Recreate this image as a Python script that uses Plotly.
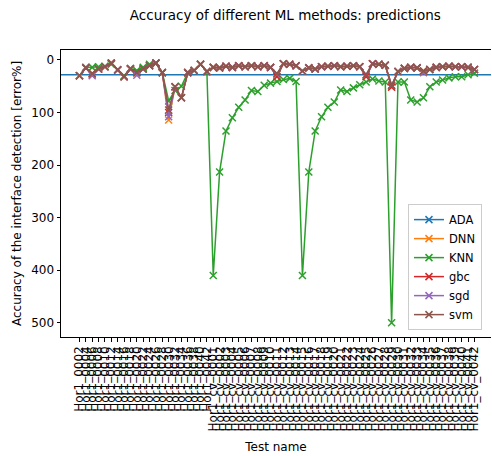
import plotly.graph_objects as go

# ---- data ----
group1 = ["Hor1_%04d" % n for n in range(2, 44, 2)]
group2 = ["Hor1_cv_%04d" % n for n in range(1, 43)]
test_names = group1 + group2

ada_value = 28

dnn = [30, 15, 28, 17, 13, 6, 19, 32, 17, 24, 17, 11, 6, 24, 114, 51, 72, 24, 20, 8, 22,
       14, 15, 12, 14, 11, 13, 11, 13, 11, 14, 31, 7, 8, 11, 21, 15, 17, 13, 12, 11, 13, 12,
       11, 13, 31, 7, 8, 10, 50, 22, 16, 14, 15, 21, 18, 14, 13, 12, 13, 13, 14, 18]
knn = [30, 14, 14, 13, 12, 8, 18, 30, 16, 20, 14, 8, 6, 24, 78, 58, 50, 24, 20, 8, 22,
       410, 213, 135, 110, 90, 76, 58, 60, 48, 44, 41, 37, 35, 41, 410, 213, 135, 108, 90, 80,
       57, 60, 53, 47, 42, 36, 40, 42, 500, 42, 42, 76, 80, 72, 51, 42, 38, 34, 32, 32, 28, 25]
gbc = [30, 15, 26, 17, 13, 6, 19, 32, 17, 24, 17, 11, 6, 24, 100, 51, 72, 24, 20, 8, 22,
       14, 15, 12, 14, 11, 13, 11, 13, 11, 14, 32, 7, 8, 11, 21, 15, 17, 13, 12, 11, 13, 12,
       11, 13, 32, 7, 8, 10, 52, 22, 16, 14, 15, 21, 18, 14, 13, 12, 13, 13, 14, 18]
sgd = [30, 15, 30, 17, 13, 6, 19, 32, 17, 29, 17, 11, 6, 24, 108, 51, 72, 24, 20, 8, 22,
       14, 15, 12, 14, 11, 13, 11, 13, 11, 14, 27, 7, 8, 11, 21, 15, 17, 13, 12, 11, 13, 12,
       11, 13, 28, 7, 8, 10, 48, 22, 16, 14, 15, 24, 18, 14, 13, 12, 13, 13, 14, 18]
svm = [30, 15, 26, 17, 13, 6, 19, 32, 17, 24, 17, 11, 6, 24, 95, 51, 72, 24, 20, 8, 22,
       14, 15, 12, 14, 11, 13, 11, 13, 11, 14, 26, 7, 8, 11, 21, 15, 17, 13, 12, 11, 13, 12,
       11, 13, 28, 7, 8, 10, 48, 22, 16, 14, 15, 21, 18, 14, 13, 12, 13, 13, 14, 18]

series = [("DNN", dnn, "#ff7f0e"), ("KNN", knn, "#2ca02c"), ("gbc", gbc, "#d62728"),
          ("sgd", sgd, "#9467bd"), ("svm", svm, "#8c564b")]

y_ticks = [0, 100, 200, 300, 400, 500]

# ---- figure ----
xs = list(range(len(test_names)))
x_range = [-2.9, len(test_names) - 1 + 2.6]
y_range = [527, -19]

FONT = "DejaVu Sans"
FS = 12
fig = go.Figure()

# ADA spans the whole axis (markers fall outside the visible range)
fig.add_trace(go.Scatter(
    x=[x_range[0] - 5, x_range[1] + 5], y=[ada_value, ada_value], name="ADA",
    mode="lines+markers", line=dict(color="#1f77b4", width=1.5),
    marker=dict(symbol="x-thin", size=7, line=dict(width=1.5, color="#1f77b4"))))

for name, vals, col in series:
    fig.add_trace(go.Scatter(
        x=xs, y=vals, name=name, mode="lines+markers",
        line=dict(color=col, width=1.5),
        marker=dict(symbol="x-thin", size=7, color=col, line=dict(width=1.5, color=col))))

fig.update_layout(
    template="none",
    width=492, height=456,
    margin=dict(l=61, r=1, t=50, b=119),
    paper_bgcolor="white", plot_bgcolor="white",
    font=dict(family=FONT, size=FS, color="black"),
    title=dict(text="Accuracy of different ML methods: predictions",
               font=dict(family=FONT, size=13.5, color="black"),
               x=0.58, xref="container", xanchor="center",
               y=1 - 15 / 456, yref="container", yanchor="middle"),
    showlegend=True,
    legend=dict(x=0.979, xanchor="right", y=0.024, yanchor="bottom",
                xref="paper", yref="paper",
                bgcolor="rgba(255,255,255,0.8)", bordercolor="#cccccc", borderwidth=1,
                font=dict(family=FONT, size=11.5, color="black"),
                tracegroupgap=0, itemwidth=30),
)

fig.update_xaxes(
    range=x_range, tickmode="array", tickvals=xs, ticktext=test_names,
    tickangle=-90, ticks="outside", ticklen=3.5, tickwidth=0.8, tickcolor="black",
    showline=True, linecolor="black", linewidth=1, mirror=True,
    showgrid=False, zeroline=False, automargin=False,
    tickfont=dict(family=FONT, size=FS, color="black"),
    title=dict(text="Test name", font=dict(family=FONT, size=FS, color="black"), standoff=12),
)
fig.update_yaxes(
    range=y_range, tickmode="array", tickvals=y_ticks,
    ticks="outside", ticklen=3.5, tickwidth=0.8, tickcolor="black",
    showline=True, linecolor="black", linewidth=1, mirror=False,
    showgrid=False, zeroline=False, automargin=False,
    tickfont=dict(family=FONT, size=FS, color="black"),
    title=dict(text="Accuracy of the interface detection [error%]",
               font=dict(family=FONT, size=FS, color="black"), standoff=6),
)

fig.write_html("out.html")
